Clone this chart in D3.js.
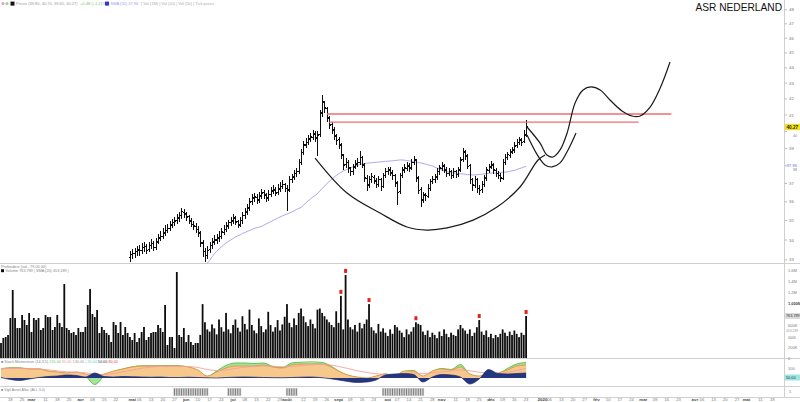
<!DOCTYPE html>
<html><head><meta charset="utf-8"><title>ASR NEDERLAND</title>
<script src="https://cdn.jsdelivr.net/npm/d3@7/dist/d3.min.js"></script>
<style>html,body{margin:0;padding:0;background:#fff;overflow:hidden}svg{display:block}text{font-family:"Liberation Sans",Arial,sans-serif}</style>
</head><body>
<svg id="chart" width="800" height="402"></svg>
<script>
// ---------- DATA ----------
const firstDay = [2019, 1, 12];          // first trading day shown (12 Feb 2019)
const lastDay = [2020, 5, 5];
const priceStart = 55;                    // trading-day index of first price bar
const opens = [33.10,33.25,33.30,33.40,33.50,33.45,33.60,33.65,33.50,33.70,
33.80,33.60,33.90,34.10,34.20,34.35,34.50,34.60,34.75,34.90,
35.00,35.15,35.25,35.45,35.35,35.20,34.98,34.80,34.70,34.55,
34.35,33.85,33.40,33.20,33.50,33.70,33.90,34.00,34.10,34.20,
34.40,34.55,34.70,34.90,35.00,35.15,34.95,34.80,35.00,35.25,
35.45,35.65,36.00,36.20,36.25,36.10,36.30,36.50,36.35,36.20,
36.40,36.60,36.65,36.50,36.70,36.85,36.95,36.75,36.65,37.20,
37.35,37.55,37.65,38.20,38.75,39.20,39.35,39.55,39.65,39.85,
39.60,39.80,41.10,41.80,41.40,40.80,40.40,40.10,39.70,39.50,
39.20,38.60,38.05,38.20,37.85,37.65,37.95,38.10,38.20,38.45,
38.05,37.30,36.90,37.20,37.35,37.15,36.95,37.20,36.85,37.45,
37.65,37.75,37.60,37.45,37.05,36.55,37.45,37.75,37.85,38.00,
37.90,38.20,38.30,37.30,36.65,36.10,36.35,36.30,36.75,37.10,
37.20,37.35,37.65,37.85,38.00,37.75,37.55,37.65,37.45,37.65,
37.50,37.75,38.35,38.80,38.55,38.00,37.20,36.90,37.20,36.75,
36.65,36.95,37.30,37.75,37.95,38.05,37.75,37.55,37.45,37.30,
38.20,38.45,38.60,38.80,38.90,39.15,39.35,39.50,39.40,39.80];
const highs = [33.45,33.55,33.60,33.70,33.75,33.85,33.90,33.80,33.90,34.05,
33.95,34.10,34.30,34.45,34.60,34.75,34.85,35.00,35.10,35.20,
35.35,35.45,35.65,35.60,35.45,35.30,35.15,35.00,34.90,34.70,
34.45,34.00,33.60,33.70,33.90,34.10,34.25,34.30,34.45,34.60,
34.75,34.95,35.05,35.20,35.35,35.25,35.05,35.20,35.45,35.65,
35.90,36.20,36.45,36.50,36.40,36.55,36.70,36.65,36.50,36.65,
36.80,36.90,36.80,36.95,37.10,37.20,37.05,36.90,37.40,37.55,
37.75,37.85,38.40,38.95,39.45,39.60,39.80,39.90,40.10,40.00,
40.00,41.30,42.25,41.90,41.50,40.95,40.55,40.25,39.85,39.65,
39.30,38.70,38.45,38.30,37.95,38.10,38.30,38.45,38.85,38.55,
38.15,37.45,37.40,37.60,37.50,37.30,37.40,37.30,37.60,37.85,
37.95,37.90,37.75,37.55,37.15,37.60,37.95,38.10,38.20,38.15,
38.40,38.55,38.40,37.40,36.80,36.55,36.50,36.95,37.25,37.40,
37.55,37.85,38.05,38.20,38.10,37.90,37.85,37.75,37.85,37.75,
37.95,38.50,39.05,38.90,38.65,38.10,37.30,37.40,37.30,36.90,
37.15,37.50,37.95,38.10,38.25,38.15,37.85,37.70,37.60,38.40,
38.65,38.80,38.95,39.10,39.35,39.55,39.70,39.60,40.09,40.70];
const lows = [32.90,33.05,33.10,33.20,33.20,33.30,33.40,33.30,33.40,33.55,
33.45,33.50,33.80,33.95,34.05,34.20,34.35,34.45,34.60,34.70,
34.85,34.95,35.10,35.15,35.00,34.80,34.65,34.50,34.35,34.15,
33.65,33.15,32.90,33.05,33.35,33.55,33.75,33.80,33.90,34.05,
34.25,34.40,34.55,34.70,34.85,34.75,34.60,34.65,34.85,35.10,
35.30,35.50,35.85,36.00,35.90,35.95,36.15,36.15,36.00,36.05,
36.25,36.40,36.30,36.35,36.55,36.70,36.55,35.50,36.55,37.05,
37.20,37.35,37.55,38.05,38.60,39.00,39.20,39.35,39.50,39.40,
38.55,39.70,40.90,41.10,40.60,40.15,39.85,39.50,39.20,38.95,
38.40,37.75,37.85,37.60,37.40,37.50,37.80,37.95,38.05,37.85,
37.10,36.60,36.75,37.05,36.95,36.75,36.80,36.60,36.75,37.30,
37.50,37.40,37.20,36.80,35.85,36.45,37.30,37.60,37.70,37.65,
37.75,38.05,37.10,36.45,35.70,35.95,36.05,36.20,36.60,36.95,
37.05,37.20,37.50,37.70,37.60,37.35,37.40,37.25,37.30,37.30,
37.35,37.65,38.20,38.35,37.80,37.00,36.60,36.75,36.50,36.35,
36.50,36.80,37.15,37.60,37.80,37.55,37.35,37.25,37.10,37.20,
38.05,38.30,38.45,38.65,38.75,39.00,39.20,39.15,39.30,39.65];
const closes = [33.25,33.30,33.40,33.49,33.45,33.60,33.65,33.49,33.70,33.80,
33.60,33.90,34.10,34.20,34.36,34.51,34.61,34.77,34.88,34.98,
35.14,35.25,35.46,35.35,35.19,34.98,34.82,34.72,34.56,34.36,
33.85,33.40,33.20,33.49,33.70,33.90,34.00,34.10,34.20,34.41,
34.56,34.72,34.88,34.98,35.14,34.93,34.77,35.03,35.25,35.46,
35.67,35.99,36.21,36.26,36.10,36.32,36.48,36.37,36.21,36.42,
36.59,36.64,36.48,36.70,36.86,36.97,36.75,36.64,37.20,37.37,
37.54,37.65,38.21,38.74,39.20,39.37,39.55,39.67,39.85,39.61,
39.79,41.12,41.81,41.43,40.82,40.39,40.09,39.73,39.49,39.20,
38.62,38.04,38.21,37.87,37.65,37.93,38.10,38.21,38.45,38.04,
37.31,36.92,37.20,37.37,37.14,36.97,37.20,36.86,37.43,37.65,
37.76,37.59,37.43,37.03,36.53,37.43,37.76,37.87,37.98,37.87,
38.21,38.33,37.31,36.64,36.10,36.37,36.32,36.75,37.09,37.20,
37.37,37.65,37.87,37.98,37.76,37.54,37.65,37.43,37.65,37.48,
37.76,38.33,38.79,38.56,37.98,37.20,36.92,37.20,36.75,36.64,
36.97,37.31,37.76,37.93,38.04,37.76,37.54,37.43,37.31,38.21,
38.45,38.62,38.79,38.91,39.14,39.37,39.49,39.37,39.79,40.27];
const maStart = 87;
const ma50 = [32.70,32.85,32.97,33.15,33.30,33.44,33.54,33.65,33.75,33.85,
33.93,34.00,34.08,34.16,34.21,34.26,34.34,34.38,34.44,34.49,
34.54,34.59,34.63,34.66,34.69,34.76,34.82,34.88,34.94,35.01,
35.07,35.13,35.19,35.25,35.30,35.35,35.40,35.46,35.51,35.59,
35.64,35.70,35.81,35.94,36.05,36.15,36.26,36.34,36.45,36.59,
36.72,36.86,37.00,37.11,37.23,37.34,37.45,37.54,37.62,37.71,
37.76,37.82,37.87,37.93,37.99,38.04,38.07,38.10,38.13,38.14,
38.16,38.17,38.18,38.20,38.21,38.22,38.24,38.25,38.26,38.27,
38.28,38.30,38.31,38.33,38.33,38.32,38.30,38.28,38.26,38.24,
38.21,38.18,38.16,38.13,38.10,38.06,38.03,37.99,37.93,37.87,
37.82,37.76,37.71,37.67,37.65,37.62,37.59,37.58,37.56,37.54,
37.54,37.52,37.50,37.49,37.48,37.48,37.49,37.51,37.52,37.54,
37.55,37.57,37.58,37.59,37.59,37.60,37.62,37.63,37.64,37.65,
37.68,37.71,37.74,37.78,37.83,37.87,37.92,37.96];
// volume in thousands of shares, one per trading day from index 0
const volumes = [273,364,382,418,727,1236,727,545,545,782,
691,600,818,473,727,691,727,509,545,782,
745,745,509,564,782,636,564,1345,545,509,
455,473,418,545,473,473,564,964,1255,800,
745,873,455,564,509,455,418,291,655,600,
455,655,418,564,455,382,327,455,291,364,
473,564,327,382,455,473,473,600,545,473,
964,236,382,382,182,1564,418,382,545,291,
418,291,236,273,273,420,980,650,520,480,
610,540,430,700,560,480,820,520,450,600,
700,550,480,760,620,520,880,600,500,450,
720,580,470,520,840,600,480,560,690,500,
610,750,980,640,560,720,600,820,900,760,
650,580,700,620,540,880,900,820,760,700,
650,600,560,850,640,1130,520,1510,700,560,
520,600,480,640,540,620,700,980,560,500,
450,620,480,540,460,400,520,440,600,560,
500,460,380,520,430,480,560,650,620,600,
480,420,500,380,460,420,360,480,400,520,
440,380,460,420,400,520,600,540,500,440,
520,400,460,560,690,480,420,500,380,440,
360,420,380,440,520,460,400,480,420,500,
440,380,460,420,763.789];
const volumeAlerts = [145,147,157,177,204,224];
// oscillator panel, one reading every 4 trading days
const indStep = 4;
const oscGreen = [92,102,102,88,90,68,58,48,55,20,-65,20,65,90,112,122,122,122,125,122,108,75,15,70,125,150,150,145,150,115,105,150,160,165,160,130,70,25,5,-5,15,40,15,65,75,10,65,95,85,135,35,15,50,45,95,140,155];
const oscOrange = [90,100,100,90,90,70,60,50,60,40,20,40,70,90,110,120,120,120,120,120,110,80,20,60,100,120,120,120,130,110,100,130,140,140,140,120,70,30,10,0,20,40,20,70,70,20,70,90,80,110,40,20,40,50,80,120,130];
const oscPink = [95,95,98,95,92,82,72,62,58,52,40,35,45,62,80,98,110,115,118,118,115,105,85,75,80,95,108,115,120,118,112,115,125,132,136,132,115,95,72,55,42,35,32,40,50,45,50,62,72,82,72,58,48,45,55,75,95];
const oscNavy = [5,-15,-25,-10,5,15,20,30,25,10,50,15,10,15,12,10,8,10,5,5,8,5,2,0,5,8,10,8,5,3,2,5,8,10,5,-5,-20,-35,-45,-40,-20,30,40,45,35,-40,10,35,30,10,-60,-10,85,45,40,45,50];
const signalRanges = [[74,88],[97,102],[122,126],[163,180]];
// annotations: [trading-day index, price]
const resistanceLines = [{price:41.06, from:139, to:286}, {price:40.57, from:140, to:272}];
const cupArc = [[134,38.44],[147.6,36.48],[161.7,35.40],[173.2,34.67],[181.7,34.51],[190.3,34.62],[201.4,35.03],[211.6,35.72],[221.4,36.81],[229.1,38.33],[232.1,38.62]];
const projOuter = [[224.4,40.27],[229.9,39.32],[232.9,38.62],[235.5,38.50],[238.5,38.91],[241.5,39.91],[244.9,41.74],[248.3,42.56],[251.7,42.76],[255.6,42.56],[259.8,41.93],[264.9,41.25],[269.2,40.94],[272.6,40.94],[276.9,41.49],[281.2,42.69],[285.4,44.39]];
const projInner = [[224.4,39.79],[228.8,38.62],[232.1,38.04],[235.1,37.93],[238.5,38.16],[241.9,38.91],[245.3,39.91]];
const priceTicks = [33,34,35,36,37,38,39,40,41,42,43,44,45,46,47,48];
const volTicks = [0,200,400,600,1000,1200,1400,1600];
const oscTicks = [100];
const monthNames = ["2020","fév","mar","avr","mai","jun","jui","août","sept","oct","nov","déc"];
const title = "ASR NEDERLAND";

// ---------- LAYOUT ----------
const svg = d3.select("#chart");
const AX = 784.5;
const PR = {top:0, bottom:263.5}, VO = {top:263.5, bottom:358.5}, OS = {top:358.5, bottom:386.5}, SG = {top:386.5, bottom:397.5};

const days = [];
for (let d = new Date(...firstDay); d <= new Date(...lastDay); d = new Date(d.getFullYear(), d.getMonth(), d.getDate()+1)) {
  const w = d.getDay(); if (w > 0 && w < 6) days.push(d);
}
const x = d3.scaleLinear().domain([0, 231]).range([1, 542.5]);
const y = d3.scaleLog().domain([34, 41]).range([240, 115]);
const yv = d3.scaleLinear().domain([0, 1600]).range([358, 270]);
const yo = d3.scaleLinear().domain([0, 100]).range([378, 368]);

svg.append("rect").attr("width",800).attr("height",402).attr("fill","#fff");
const defs = svg.append("defs");
defs.append("clipPath").attr("id","cp").append("rect").attr("x",0).attr("y",0).attr("width",AX).attr("height",PR.bottom);
defs.append("clipPath").attr("id","co").append("rect").attr("x",0).attr("y",OS.top+3).attr("width",AX).attr("height",OS.bottom-OS.top-3);

// frame
const frame = svg.append("g").attr("stroke","#d0d0d0").attr("stroke-width",1).attr("shape-rendering","crispEdges");
[PR.bottom, VO.bottom, OS.bottom, SG.bottom].forEach(v => frame.append("line").attr("x1",0).attr("x2",800).attr("y1",v).attr("y2",v));
frame.append("line").attr("x1",AX).attr("x2",AX).attr("y1",0).attr("y2",SG.bottom);

function label(g, xx, yy, s, o = {}) {
  return g.append("text").attr("x",xx).attr("y",yy).text(s)
    .attr("font-size", o.size || 4.3).attr("fill", o.fill || "#777")
    .attr("font-weight", o.weight || "normal").attr("text-anchor", o.anchor || "start");
}

// ---------- PRICE PANEL ----------
const gp = svg.append("g").attr("clip-path","url(#cp)");
const bars = closes.map((c,k) => ({j: priceStart+k, o: opens[k], h: highs[k], l: lows[k], c}));
gp.append("path").attr("fill","none").attr("stroke","#aaa6ee").attr("stroke-width",1)
  .attr("d", d3.line().x((v,k)=>x(maStart+k)).y(v=>y(v))(ma50));
gp.selectAll("path.bar").data(bars).join("path").attr("class","bar")
  .attr("fill","none").attr("stroke","#0d0d0d").attr("stroke-width",1.1).attr("shape-rendering","crispEdges")
  .attr("d", d => { const xx = Math.round(x(d.j))+0.5;
    return `M${xx},${y(d.h)}V${y(d.l)}M${xx-1.5},${y(d.o)}H${xx}M${xx},${y(d.c)}H${xx+1.6}`; });
gp.selectAll("line.res").data(resistanceLines).join("line").attr("class","res")
  .attr("x1",d=>x(d.from)).attr("x2",d=>x(d.to)).attr("y1",d=>y(d.price)).attr("y2",d=>y(d.price))
  .attr("stroke","#f06e6e").attr("stroke-width",1.3);
const curve = d3.line().x(d=>x(d[0])).y(d=>y(d[1])).curve(d3.curveCatmullRom.alpha(0.5));
[cupArc, projOuter, projInner].forEach(pts => gp.append("path").attr("d",curve(pts))
  .attr("fill","none").attr("stroke","#1a1a1a").attr("stroke-width",1.2));

// price axis
const pa = svg.append("g");
const lastC = closes[closes.length-1], lastMA = ma50[ma50.length-1];
priceTicks.forEach(t => {
  pa.append("line").attr("x1",AX).attr("x2",AX+2.5).attr("y1",y(t)).attr("y2",y(t)).attr("stroke","#bbb");
  const clash = Math.abs(y(t)-y(lastMA)) < 5.5 || Math.abs(y(t)-y(lastC)) < 5.5;
  label(pa, clash ? 793 : 789, y(t) + (clash ? (y(t) > y(lastMA) - 0.1 && Math.abs(y(t)-y(lastMA)) < 5.5 ? 5.2 : 5.4) : 1.5), String(t), {size: clash ? 3.4 : 4.3});
});
pa.append("rect").attr("x",AX+0.5).attr("y",y(lastC)-3.2).attr("width",15).attr("height",6.4).attr("fill","#f2e21c");
label(pa, 786.5, y(lastC)+1.6, lastC.toFixed(2), {fill:"#222", weight:"bold", size:4.6});
label(pa, 786.5, y(lastMA)+1.0, lastMA.toFixed(2), {fill:"#6a66ee", size:4.2});
svg.append("text").attr("x",782).attr("y",10.5).attr("text-anchor","end").attr("font-size",10.2).attr("fill","#111").text(title);

// top legend
const lg = svg.append("g");
lg.append("circle").attr("cx",3).attr("cy",3.6).attr("r",1.6).attr("fill","#f3a0b8");
lg.append("circle").attr("cx",7).attr("cy",3.6).attr("r",1.6).attr("fill","#9ad69a");
lg.append("rect").attr("x",10.5).attr("y",1.6).attr("width",4).attr("height",4).attr("fill","#111");
label(lg, 16, 5.2, `Prices (${opens[opens.length-1].toFixed(2)}, ${highs[highs.length-1].toFixed(2)}, ${lows[lows.length-1].toFixed(2)}, ${lastC.toFixed(2)})`, {fill:"#9a9a9a", size:4});
label(lg, 80, 5.2, `+${(lastC-closes[closes.length-2]).toFixed(2)} (+${((lastC/closes[closes.length-2]-1)*100).toFixed(2)}%)`, {fill:"#7ac47a", size:4});
lg.append("rect").attr("x",105).attr("y",1.6).attr("width",4).attr("height",4).attr("fill","#3535d8");
label(lg, 110.5, 5.2, `SMA (50) ${lastMA.toFixed(2)}`, {fill:"#9a9af0", size:4});
label(lg, 141, 5.2, "| Vol (1M) |  Vol (20) |  Vol (50) |  Tick prices", {fill:"#aaa", size:4});

// ---------- VOLUME PANEL ----------
const gv = svg.append("g");
gv.selectAll("rect.vol").data(volumes).join("rect").attr("class","vol")
  .attr("x",(v,j)=>x(j)-0.9).attr("width",1.8).attr("y",v=>yv(v)).attr("height",v=>yv(0)-yv(v)).attr("fill","#0d0d0d");
gv.selectAll("rect.alert").data(volumeAlerts).join("rect").attr("class","alert")
  .attr("x",j=>x(j)-1.5).attr("width",3).attr("y",j=>yv(volumes[j])-6).attr("height",4).attr("fill","#e3221c");
label(gv, 1, 267.8, "Profondeur (vol., 79,00 00)", {fill:"#888", size:3.8});
gv.append("rect").attr("x",1).attr("y",269.2).attr("width",3).attr("height",3).attr("fill","#111");
const lastV = volumes[volumes.length-1];
const volAvg = d3.mean(volumes.slice(-20));
const fmtV = v => d3.format(",")(Math.round(v*1000));
label(gv, 5.5, 272, `Volume ${fmtV(lastV)}  |  SMA (20) ${fmtV(volAvg)}  |`, {fill:"#888", size:3.8});
volTicks.forEach(t => {
  const isM = t >= 1000;
  const near = Math.abs(yv(t)-yv(volAvg)) < 4.5;
  label(gv, 788, yv(t) + (near ? 3.2 : 1.5), t === 0 ? "0" : (isM ? (t/1000).toFixed(t===1000?3:1)+"M" : t+"K"), {weight: t===1000?"bold":"normal", fill: t===1000?"#444":"#777", size: near ? 3.4 : 4});
});
gv.append("rect").attr("x",AX+0.5).attr("y",yv(lastV)-3).attr("width",15).attr("height",6).attr("fill","#dcdcdc");
label(gv, 786, yv(lastV)+1.5, fmtV(lastV), {fill:"#333", size:3.8});
label(gv, 786, yv(volAvg)-0.6, fmtV(volAvg), {fill:"#999", size:3.4});

// ---------- OSCILLATOR PANEL ----------
const go = svg.append("g");
const gcl = go.append("g").attr("clip-path","url(#co)");
const ox = (v,k) => x(k*indStep);
const area = arr => d3.area().x((v,k)=>ox(v,k)).y0(yo(0)).y1(v=>yo(v)).curve(d3.curveMonotoneX)(arr);
const ln = arr => d3.line().x((v,k)=>ox(v,k)).y(v=>yo(v)).curve(d3.curveMonotoneX)(arr);
gcl.append("path").attr("d",area(oscGreen)).attr("fill","#a6e39c");
gcl.append("path").attr("d",ln(oscGreen)).attr("fill","none").attr("stroke","#46c046").attr("stroke-width",0.9);
gcl.append("path").attr("d",area(oscOrange)).attr("fill","#f7c88c");
gcl.append("path").attr("d",ln(oscOrange)).attr("fill","none").attr("stroke","#e0953a").attr("stroke-width",0.9);
gcl.append("path").attr("d",ln(oscPink)).attr("fill","none").attr("stroke","#f2a0a0").attr("stroke-width",0.9);
gcl.append("path").attr("d",area(oscNavy)).attr("fill","#24367f");
gcl.append("path").attr("d",ln(oscNavy)).attr("fill","none").attr("stroke","#1c2a66").attr("stroke-width",0.7);
const legO = [["■ Stoch Momentum (14,3,5)","#888"],[` ${oscGreen.at(-1).toFixed(2)}`,"#6c6"],[` ${oscPink.at(-1).toFixed(2)}`,"#e99"],[` ${oscOrange.at(-1).toFixed(2)}`,"#999"],[" | 20,00","#7cc"],[` ${oscNavy.at(-1).toFixed(2)}`,"#335"],[" 80,00 ","#e44"]];
const lt = go.append("text").attr("x",1).attr("y",363.2).attr("font-size",3.8);
legO.forEach(([s,c]) => lt.append("tspan").text(s).attr("fill",c));
oscTicks.forEach(t => label(go, 788, yo(t)+1.5, String(t), {size:4}));
go.append("rect").attr("x",AX+0.5).attr("y",yo(0)-3.5).attr("width",15).attr("height",6).attr("fill","#9fe6e0");
label(go, 786, yo(0)+1, oscNavy.at(-1).toFixed(2), {fill:"#236", size:3.8});

// ---------- SIGNAL PANEL ----------
const gs = svg.append("g");
signalRanges.forEach(([a,b]) => {
  gs.append("rect").attr("x",x(a)-1.2).attr("y",388).attr("width",x(b)-x(a)+2.4).attr("height",8).attr("fill","#d6d6d6");
  gs.selectAll(null).data(d3.range(a,b+1)).join("rect").attr("x",j=>x(j)-0.5).attr("width",1).attr("y",388.5).attr("height",7).attr("fill","#7a7a7a");
});
label(gs, 1, 391.2, "■ Vigil Asset Alloc (ALL 3.0)", {fill:"#888", size:3.6});
label(gs, 789, 393, "1", {size:4});

// ---------- DATE AXIS ----------
const ga = svg.append("g");
const monthIdx = days.map((d,i)=>i).filter(i => i>0 && days[i].getMonth() !== days[i-1].getMonth());
const near = i => monthIdx.some(m => Math.abs(m-i) <= 2);
days.forEach((d,i) => {
  const xx = x(i); if (xx < 3 || xx > 780) return;
  if (monthIdx.includes(i)) {
    const s = d.getMonth() === 0 ? String(d.getFullYear()) : monthNames[d.getMonth()];
    label(ga, xx, 401, s, {anchor:"middle", weight:"bold", fill:"#444", size:4.4});
  } else if (d.getDay() === 1 && !near(i)) {
    label(ga, xx, 401, d3.timeFormat("%d")(d), {anchor:"middle", fill:"#777", size:4.2});
  }
});
</script>
</body></html>
